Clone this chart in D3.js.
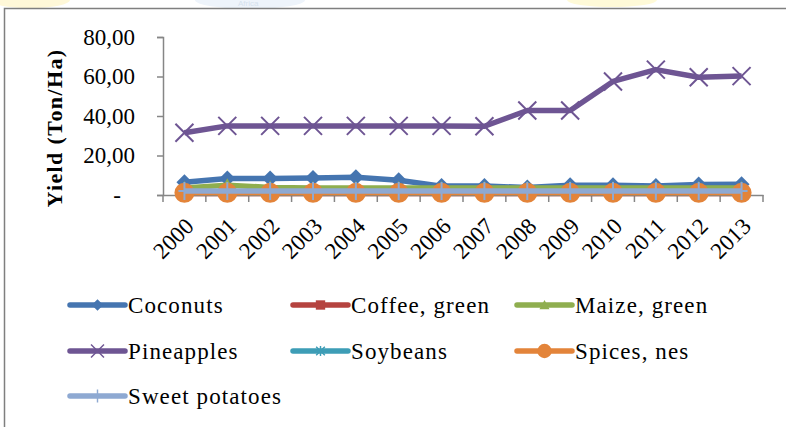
<!DOCTYPE html>
<html>
<head>
<meta charset="utf-8">
<script src="https://cdn.jsdelivr.net/npm/d3@7"></script>
<style>
  body { margin: 0; background: #fff; }
  text { font-family: "Liberation Serif", "Times New Roman", serif; fill: #000; }
</style>
</head>
<body>
<svg id="chart" width="786" height="427"></svg>
<script>

//-- data --//
var years = ["2000","2001","2002","2003","2004","2005","2006","2007","2008","2009","2010","2011","2012","2013"];
var coconuts      = [6.5, 8.3, 8.4, 8.6, 9.0, 7.5, 4.5, 4.5, 3.8, 5.0, 5.0, 4.6, 5.3, 5.5];
var coffee        = [0.8, 0.8, 0.8, 0.8, 0.8, 0.8, 0.8, 0.8, 0.8, 0.8, 0.8, 0.8, 0.8, 0.8];
var maize         = [3.6, 5.0, 3.8, 3.6, 3.5, 3.5, 3.5, 3.5, 3.5, 3.5, 3.5, 3.5, 3.5, 3.5];
var pineapples    = [31.5, 35.0, 35.0, 35.0, 35.0, 35.0, 35.0, 34.8, 42.8, 42.8, 57.5, 63.5, 59.6, 60.2];
var soybeans      = [1.0, 1.0, 1.0, 1.0, 1.0, 1.0, 1.0, 1.0, 1.0, 1.0, 1.0, 1.0, 1.0, 1.0];
var spices        = [1.1, 1.1, 1.1, 1.1, 1.1, 1.1, 1.1, 1.1, 1.1, 1.1, 1.1, 1.1, 1.1, 1.1];
var sweetPotatoes = [2.0, 2.0, 2.0, 2.0, 2.0, 2.0, 2.0, 2.0, 2.0, 2.0, 2.0, 2.0, 2.0, 2.0];
var yTicks = [0, 20, 40, 60, 80];

var series = [
  {name: "Coconuts",       values: coconuts,      color: "#4575b0", marker: "diamond"},
  {name: "Coffee, green",  values: coffee,        color: "#b5433f", marker: "square"},
  {name: "Maize, green",   values: maize,         color: "#8fae4f", marker: "triangle"},
  {name: "Pineapples",     values: pineapples,    color: "#6e5593", marker: "x"},
  {name: "Soybeans",       values: soybeans,      color: "#3d9db6", marker: "star"},
  {name: "Spices, nes",    values: spices,        color: "#e3843a", marker: "circle"},
  {name: "Sweet potatoes", values: sweetPotatoes, color: "#8ea9d2", marker: "plus"}
];
//-- data --//

var svg = d3.select("#chart"),
    margin = {top: 37, left: 163, bottom: 195, right: 763};

//-- faint watermark behind the frame --//
var wm = svg.append("g");
wm.append("ellipse").attr("cx", 30).attr("cy", 0).attr("rx", 40).attr("ry", 8).attr("fill", "#fff8d8");
wm.append("ellipse").attr("cx", 250).attr("cy", 0).attr("rx", 55).attr("ry", 9).attr("fill", "#eef4fb");
wm.append("text").attr("x", 238).attr("y", 6).style("font-family", "Liberation Sans")
  .style("font-size", "8px").style("fill", "#d6e2ee").text("Africa");
wm.append("ellipse").attr("cx", 612).attr("cy", 0).attr("rx", 45).attr("ry", 7).attr("fill", "#fffad8");

//-- frame --//
svg.append("path")
  .attr("d", "M4.5,427 V8.5 H786")
  .attr("fill", "none")
  .attr("stroke", "#7f7f7f")
  .attr("stroke-width", 1.5);

//-- scales --//
var x = d3.scaleBand()
  .domain(years)
  .range([margin.left, margin.right]);

var y = d3.scaleLinear()
  .domain([0, 80])
  .range([margin.bottom, margin.top]);

var fmt = d3.format(".2f");

//-- y axis --//
var yAxis = svg.append("g")
  .attr("transform", `translate(${margin.left},0)`)
  .call(d3.axisLeft(y).tickValues(yTicks).tickSize(6).tickPadding(22)
    .tickFormat(d => d === 0 ? "-" : fmt(d).replace(".", ",")));

yAxis.select(".domain").attr("stroke", "#868686").attr("stroke-width", 1.5);
yAxis.selectAll(".tick line").attr("stroke", "#868686").attr("stroke-width", 1.5);
yAxis.selectAll("text")
  .style("font-family", "Liberation Serif")
  .style("font-size", "23px")
  .attr("fill", "#000");
yAxis.selectAll(".tick").filter(d => d === 0).select("text").attr("dx", -14);

//-- x axis --//
var xAxis = svg.append("g")
  .attr("transform", `translate(0,${margin.bottom})`)
  .call(d3.axisBottom(x).tickSize(0).tickSizeOuter(0));

xAxis.select(".domain").attr("stroke", "#868686").attr("stroke-width", 1.5);
xAxis.selectAll("text")
  .style("font-family", "Liberation Serif")
  .style("font-size", "23px")
  .attr("fill", "#000")
  .style("text-anchor", "end")
  .attr("y", 0)
  .attr("dy", "0.35em")
  .attr("transform", "translate(5,27) rotate(-45)");

// tick marks sit between categories
xAxis.selectAll(".edge")
  .data(years.concat(["end"]))
  .enter().append("line")
  .attr("class", "edge")
  .attr("x1", (d, i) => i < years.length ? x(d) : margin.right)
  .attr("x2", (d, i) => i < years.length ? x(d) : margin.right)
  .attr("y1", 0)
  .attr("y2", 7)
  .attr("stroke", "#868686")
  .attr("stroke-width", 1.5);

//-- axis title --//
svg.append("text")
  .attr("transform", "translate(62,128) rotate(-90)")
  .style("text-anchor", "middle")
  .style("font-size", "22px")
  .style("font-weight", "bold")
  .style("letter-spacing", "1.4px")
  .text("Yield (Ton/Ha)");

//-- markers --//
function drawMarker(g, type, color) {
  if (type === "diamond") {
    g.append("path").attr("d", "M0,-8 L8,0 L0,8 L-8,0Z").attr("fill", color);
  } else if (type === "square") {
    g.append("rect").attr("x", -6.5).attr("y", -6.5).attr("width", 13).attr("height", 13).attr("fill", color);
  } else if (type === "triangle") {
    g.append("path").attr("d", "M0,-7 L7,6 L-7,6Z").attr("fill", color);
  } else if (type === "x") {
    g.append("path").attr("d", "M-9,-9 L9,9 M-9,9 L9,-9").attr("stroke", color).attr("stroke-width", 2);
  } else if (type === "star") {
    g.append("path").attr("d", "M-6,-6 L6,6 M-6,6 L6,-6 M0,-7 V7").attr("stroke", color).attr("stroke-width", 2);
  } else if (type === "circle") {
    g.append("circle").attr("r", 10).attr("fill", color);
  } else if (type === "plus") {
    g.append("path").attr("d", "M0,-9 V9 M-6,0 H6").attr("stroke", color).attr("stroke-width", 2);
  }
}

//-- lines --//
var line = d3.line()
  .x((d, i) => x(years[i]) + x.bandwidth() / 2)
  .y(d => y(d));

var layer = svg.selectAll("g.series")
  .data(series)
  .enter().append("g")
  .attr("class", "series");

layer.append("path")
  .attr("d", d => line(d.values))
  .attr("fill", "none")
  .attr("stroke", d => d.color)
  .attr("stroke-width", 5.5)
  .attr("stroke-linejoin", "round");

layer.each(function(s) {
  d3.select(this).selectAll("g.pt")
    .data(s.values)
    .enter().append("g")
    .attr("class", "pt")
    .attr("transform", (d, i) => `translate(${x(years[i]) + x.bandwidth() / 2},${y(d)})`)
    .each(function() { drawMarker(d3.select(this), s.marker, s.color); });
});

//-- legend --//
var legendCols = [70, 293, 517];
var legendRows = [305, 351, 396];

var lg = svg.append("g").attr("class", "legend")
  .selectAll("g")
  .data(series)
  .enter().append("g")
  .attr("transform", (d, i) => `translate(${legendCols[i % 3]},${legendRows[Math.floor(i / 3)]})`);

lg.append("line")
  .attr("x1", 0).attr("x2", 55)
  .attr("stroke", d => d.color)
  .attr("stroke-width", 5.5)
  .attr("stroke-linecap", "round");

lg.append("g")
  .attr("transform", "translate(27.5,0) scale(0.72)")
  .each(function(d) { drawMarker(d3.select(this), d.marker, d.color); });

lg.append("text")
  .attr("x", 58)
  .attr("dy", "0.33em")
  .style("font-size", "23px")
  .style("letter-spacing", "1.1px")
  .text(d => d.name);

</script>
</body>
</html>
